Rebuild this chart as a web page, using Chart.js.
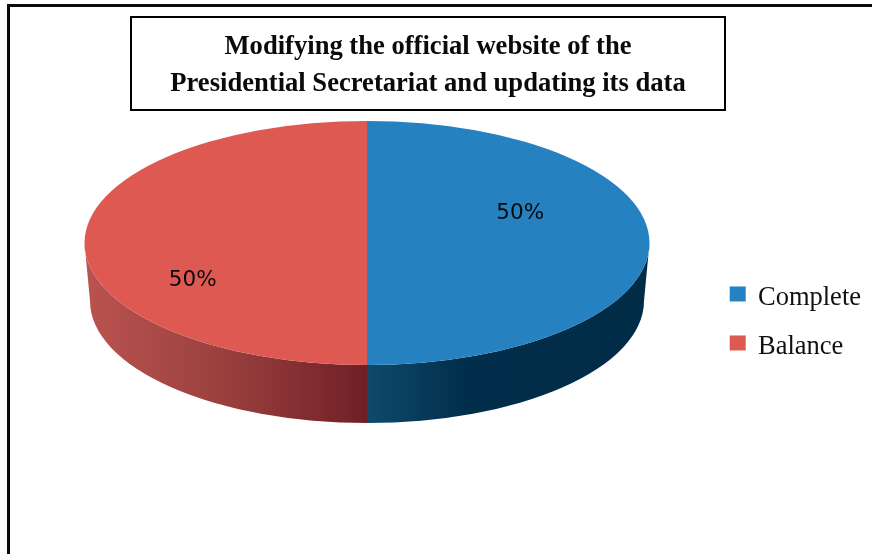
<!DOCTYPE html>
<html>
<head>
<meta charset="utf-8">
<style>
  html, body { margin: 0; padding: 0; background: #fff; overflow: hidden; }
  canvas { display: block; }
</style>
<script src="https://cdn.jsdelivr.net/npm/chart.js@4"></script>
</head>
<body>
<canvas id="myPieChart" width="872" height="554"></canvas>
<script>
const categories = ["Complete", "Balance"];
const values = [50, 50];
const titleLines = [
  "Modifying the official website of the",
  "Presidential Secretariat and updating its data",
];
const sliceColors = ["#2681c1", "#df5953"];

// look of the tilted pie
const pieX = 367;
const pieY = 243;
const pieRadius = 282.5;
const squash = 122 / 282.5;
const depth = 58;
const baseRadius = 277;
const sideStops = [
  [[0, "#0e4a6c"], [0.35, "#012e4b"], [1, "#012c47"]],
  [[0, "#701f27"], [0.5, "#99403d"], [1, "#bb5350"]],
];
const labelShift = [
  [12, -30],
  [-33, 37],
];

const tiltedPie = {
  id: "tiltedPie",
  afterLayout(chart) {
    // title box is centred left of the canvas middle
    chart.titleBlock.left -= 7.5;
    chart.titleBlock.right -= 7.5;
  },
  beforeDraw(chart) {
    const ctx = chart.ctx;
    ctx.save();
    ctx.fillStyle = "#fff";
    ctx.fillRect(0, 0, chart.width, chart.height);
    ctx.fillStyle = "#0a0a0a";
    ctx.fillRect(7, 4, chart.width, 3);
    ctx.fillRect(7, 4, 3, chart.height);
    ctx.strokeStyle = "#000";
    ctx.lineWidth = 2;
    ctx.strokeRect(131, 17, 594, 93);
    ctx.restore();
  },
  beforeDatasetsDraw(chart) {
    const ctx = chart.ctx;
    const arcs = chart.getDatasetMeta(0).data;
    const ry = pieRadius * squash;

    arcs.forEach((arc, i) => {
      const from = Math.max(arc.startAngle, 0);
      const to = Math.min(arc.endAngle, Math.PI);
      if (to <= from) return;
      const grad = ctx.createLinearGradient(
        pieX,
        0,
        i === 0 ? pieX + pieRadius : pieX - pieRadius,
        0
      );
      sideStops[i].forEach((s) => grad.addColorStop(s[0], s[1]));
      ctx.save();
      ctx.fillStyle = grad;
      ctx.beginPath();
      ctx.ellipse(pieX, pieY, pieRadius, ry, 0, from, to);
      ctx.ellipse(pieX, pieY + depth, baseRadius, ry, 0, to, from, true);
      ctx.closePath();
      ctx.fill();
      ctx.restore();
    });

    const first = arcs[0];
    ctx.save();
    ctx.translate(pieX, pieY);
    ctx.scale(1, squash);
    ctx.translate(-first.x, -first.y);
  },
  afterDatasetsDraw(chart) {
    const ctx = chart.ctx;
    ctx.restore();

    const arcs = chart.getDatasetMeta(0).data;
    const total = values.reduce((acc, curr) => acc + curr, 0);
    ctx.save();
    ctx.font = "21.5px 'DejaVu Sans'";
    ctx.fillStyle = "#0a0a0a";
    ctx.textAlign = "center";
    ctx.textBaseline = "middle";
    arcs.forEach((arc, i) => {
      const mid = (arc.startAngle + arc.endAngle) / 2;
      const x = pieX + (pieRadius / 2) * Math.cos(mid) + labelShift[i][0];
      const y = pieY + (pieRadius / 2) * Math.sin(mid) * squash + labelShift[i][1];
      ctx.fillText(Math.round((values[i] / total) * 100) + "%", x, y);
    });
    ctx.restore();
  },
  afterDraw(chart) {
    // legend squares sit a bit above the middle of their text
    const ctx = chart.ctx;
    ctx.save();
    chart.legend.legendHitBoxes.forEach((box, i) => {
      ctx.fillStyle = sliceColors[i];
      ctx.fillRect(box.left + 1, box.top + box.height / 2 - 12, 16, 15);
    });
    ctx.restore();
  },
};

const ctx = document.getElementById("myPieChart").getContext("2d");

new Chart(ctx, {
  type: "pie",
  plugins: [tiltedPie],
  data: {
    labels: categories,
    datasets: [
      {
        data: values,
        backgroundColor: sliceColors,
        borderWidth: 0,
        clip: false,
      },
    ],
  },
  options: {
    responsive: false,
    animation: false,
    events: [],
    radius: pieRadius,
    layout: {
      padding: { top: 0, left: 0, right: 1, bottom: 11 },
    },
    plugins: {
      tooltip: { enabled: false },
      title: {
        display: true,
        text: titleLines,
        color: "#0a0a0a",
        font: { family: "'Liberation Serif'", size: 26.6, weight: "bold", lineHeight: 1.39 },
        padding: { top: 29, bottom: 0 },
      },
      legend: {
        position: "right",
        fullSize: false,
        labels: {
          color: "#111",
          boxWidth: 16,
          boxHeight: 0,
          padding: 22.5,
          font: { family: "'Liberation Serif'", size: 26.5 },
        },
      },
    },
  },
});
</script>
</body>
</html>
